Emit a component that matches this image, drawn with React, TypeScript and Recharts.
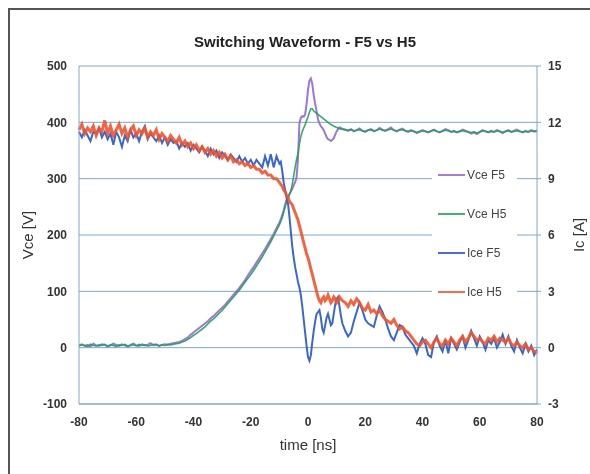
import React from 'react';
import { CartesianGrid, Line, LineChart, XAxis, YAxis } from 'recharts';

// time axis in ns (1 ns steps on the flat parts, 0.5 ns around the switching edge)
const timeNs = [
  -80, -79, -78, -77, -76, -75, -74, -73, -72, -71,
  -70, -69, -68, -67, -66, -65, -64, -63, -62, -61,
  -60, -59, -58, -57, -56, -55, -54, -53, -52, -51,
  -50, -49, -48, -47, -46, -45, -44, -43, -42, -41,
  -40, -39, -38, -37, -36, -35, -34, -33, -32, -31,
  -30, -29, -28, -27, -26, -25, -24, -23, -22, -21,
  -20, -19, -18, -17, -16, -15, -14, -13, -12, -11,
  -10,
  -9.5, -9, -8.5, -8, -7.5, -7, -6.5, -6, -5.5, -5,
  -4.5, -4, -3.5, -3, -2.5, -2, -1.5, -1, -0.5, 0,
  0.5, 1, 1.5, 2, 2.5, 3, 3.5, 4, 4.5, 5,
  5.5, 6, 6.5, 7, 7.5, 8, 8.5, 9, 9.5, 10,
  10.5, 11, 11.5, 12,
  13, 14, 15, 16, 17, 18, 19, 20, 21, 22,
  23, 24, 25, 26, 27, 28, 29, 30, 31, 32,
  33, 34, 35, 36, 37, 38, 39, 40, 41, 42,
  43, 44, 45, 46, 47, 48, 49, 50, 51, 52,
  53, 54, 55, 56, 57, 58, 59, 60, 61, 62,
  63, 64, 65, 66, 67, 68, 69, 70, 71, 72,
  73, 74, 75, 76, 77, 78, 79, 80,
];

// Vce F5 [V]
const vceF5 = [
  4, 6, 3, 5, 2, 7, 4, 3, 6, 5,
  2, 4, 7, 5, 3, 6, 4, 2, 5, 7,
  4, 3, 6, 4, 5, 8, 4, 6, 3, 5,
  6, 5, 7, 8, 9, 10, 12, 15, 18, 23,
  27, 31, 35, 39, 43, 47, 52, 56, 61, 66,
  71, 76, 82, 88, 94, 100, 106, 113, 120, 128,
  136, 143, 151, 159, 167, 175, 184, 193, 202, 212,
  222,
  228, 236, 244, 254, 262, 268, 273, 277, 282, 288,
  294, 302, 335, 398, 408, 411, 410, 414, 432, 458,
  474, 478, 468, 448, 433, 420, 405, 398, 393, 390,
  386, 380, 374, 370, 369, 367, 369, 372, 378, 384,
  388, 391, 390, 388,
  387, 385, 388, 384, 386, 389, 385, 383, 386, 388,
  384, 386, 390, 387, 385, 388, 391, 386, 384, 387,
  389, 385, 383, 386, 384, 381, 383, 386, 384, 382,
  385, 387, 384, 382, 385, 388, 386, 383, 385, 382,
  384, 387, 385, 383, 380, 382, 379, 383, 386, 384,
  382, 385, 383, 386, 384, 381, 384, 386, 383, 385,
  387, 384, 382, 385, 383, 386, 384, 385,
];

// Vce H5 [V]
const vceH5 = [
  3, 5, 4, 2, 6, 4, 3, 5, 4, 6,
  3, 5, 4, 2, 5, 4, 6, 3, 4, 5,
  3, 6, 4, 5, 3, 4, 6, 5, 3, 5,
  4, 6, 5, 6, 7, 8, 10, 12, 15, 18,
  22, 25, 29, 33, 37, 42, 47, 51, 56, 61,
  66, 72, 78, 84, 90, 96, 102, 109, 116, 123,
  130, 137, 145, 153, 161, 170, 179, 188, 198, 208,
  218,
  224, 231, 240, 250, 258, 265, 271, 278, 290, 305,
  320, 334, 345, 362, 375, 384, 390, 396, 403, 410,
  418, 424, 424, 420, 418, 416, 414, 412, 410, 408,
  406, 404, 402, 400, 398, 396, 395, 393, 392, 391,
  390, 389, 388, 388,
  387, 386, 387, 385, 386, 387, 385, 384, 386, 387,
  385, 386, 388, 386, 385, 387, 388, 386, 385, 386,
  387, 385, 384, 385, 384, 382, 384, 385, 384, 383,
  384, 386, 384, 383, 384, 386, 385, 383, 384, 383,
  384, 385, 384, 383, 382, 383, 381, 383, 385, 384,
  383, 384, 383, 385, 384, 382, 384, 385, 383, 384,
  385, 384, 383, 384, 383, 385, 384, 384,
];

// Ice F5 [A]
const iceF5 = [
  11.5, 11.2, 11.6, 11.3, 11.0, 11.5, 11.4, 11.7, 11.2, 11.5,
  11.1, 11.4, 10.8, 11.5, 11.2, 10.7, 11.3, 11.0, 11.6, 11.2,
  11.4, 11.0, 11.5, 11.8, 11.1, 11.4, 11.2, 11.0, 11.3, 10.9,
  11.2, 10.8, 11.1, 10.9, 11.0, 10.6, 10.9, 10.7, 10.9, 10.5,
  10.8, 10.6, 10.4, 10.7, 10.5, 10.2, 10.6, 10.3, 10.5, 10.1,
  10.4, 10.2, 10.0, 10.3, 10.1, 9.9, 10.2, 9.9, 10.1, 9.8,
  10.0, 9.7, 10.0, 9.8, 9.6, 10.2, 9.7, 10.3, 9.6, 10.2,
  9.8,
  9.9, 9.4, 8.8, 8.4, 8.0, 7.7, 7.0, 6.2, 5.4, 4.8,
  4.3, 3.9, 3.5, 3.2, 2.8, 2.2, 1.5, 0.8, 0.1, -0.5,
  -0.7, -0.4, 0.3, 0.9, 1.4, 1.8, 1.9, 2.0, 1.6, 1.0,
  0.8, 1.2, 1.6, 1.8, 1.5, 1.2, 1.3, 1.8, 2.3, 2.6,
  2.7, 2.2, 1.7, 1.3,
  0.9, 0.6, 0.8, 1.4, 1.9, 2.4, 2.0, 1.5, 1.3, 1.2,
  1.1, 1.7, 2.2, 1.9, 1.5, 1.0, 0.6, 0.4, 0.8, 1.2,
  1.1, 0.7, 0.5, 0.3, 0.1, -0.3, 0.2, 0.5, 0.2, -0.4,
  -0.5, 0.3, 0.6, 0.1, -0.2, 0.4, -0.3, 0.5, 0.2, -0.1,
  0.3, 0.6, 0.0, 0.4, 0.9, 0.5, 0.1, 0.6, 0.3, -0.1,
  0.4, 0.2, 0.5, 0.0, 0.3, 0.7, 0.2, 0.6, 0.1, -0.2,
  0.4, 0.0, -0.3, 0.2, -0.2, 0.1, -0.4, -0.1,
];

// Ice H5 [A]
const iceH5 = [
  11.6, 11.9, 11.4, 11.7, 11.5, 11.8, 11.3, 11.7, 11.5, 12.1,
  11.4, 11.8, 11.3, 11.6, 11.9, 11.4, 11.7, 11.2, 11.6, 11.8,
  11.3, 11.6, 11.4, 11.7, 11.2, 11.5, 11.3, 11.6, 11.1, 11.4,
  11.2, 11.0, 11.3, 11.1, 10.9, 11.2, 10.8, 11.0, 10.7, 10.9,
  10.6, 10.8, 10.5, 10.7, 10.4, 10.6, 10.3, 10.5, 10.2, 10.4,
  10.1, 10.3, 10.0, 10.2, 9.9, 10.0, 9.8, 9.9, 9.7, 9.8,
  9.6, 9.7, 9.5, 9.5, 9.3, 9.4, 9.2, 9.2, 9.0, 9.0,
  8.8,
  8.7, 8.6, 8.4, 8.3, 8.1, 8.0, 7.8, 7.7, 7.6, 7.4,
  7.2, 7.0, 6.8, 6.5, 6.2, 5.9, 5.6, 5.3, 5.0, 4.8,
  4.5, 4.2, 3.9, 3.6, 3.3, 3.0, 2.7, 2.5, 2.4, 2.6,
  2.7, 2.5, 2.6, 2.8, 2.6, 2.4, 2.5, 2.7, 2.6, 2.4,
  2.5, 2.7, 2.6, 2.5,
  2.4, 2.2, 2.5, 2.3, 2.6, 2.4, 2.1, 2.0, 2.3, 1.9,
  2.0, 1.8, 2.0, 1.7, 1.5, 1.4, 1.3, 1.5, 1.2, 1.0,
  1.1, 0.9, 0.8, 0.6, 0.4, 0.2, 0.1, 0.3, 0.4, 0.2,
  0.0, 0.3, 0.5, 0.2, 0.1, 0.4, 0.2, 0.5, 0.3, 0.1,
  0.4, 0.6, 0.3, 0.5, 0.8, 0.6, 0.4, 0.5, 0.3, 0.2,
  0.5, 0.4, 0.6, 0.3, 0.5, 0.4, 0.3, 0.5, 0.2, 0.1,
  0.3, 0.1, 0.0, 0.2, -0.1, 0.0, -0.2, -0.3,
];

const timeTicks = [-80, -60, -40, -20, 0, 20, 40, 60, 80];
const voltTicks = [-100, 0, 100, 200, 300, 400, 500];
const ampTicks = [-3, 0, 3, 6, 9, 12, 15];

const seriesDefs = [
  { key: 'vf', name: 'Vce F5', axis: 'v', color: '#9467cf', width: 2 },
  { key: 'vh', name: 'Vce H5', axis: 'v', color: '#23a05a', width: 1.6 },
  { key: 'if', name: 'Ice F5', axis: 'a', color: '#2456c6', width: 2 },
  { key: 'ih', name: 'Ice H5', axis: 'a', color: '#f0542e', width: 3 },
];

const rows = timeNs.map((t, i) => ({
  t,
  vf: vceF5[i],
  vh: vceH5[i],
  if: iceF5[i],
  ih: iceH5[i],
}));

const FONT = '"Liberation Sans", Arial, sans-serif';
const GRID = '#7fa8ca';
const tickStyle = { fontSize: 12, fontWeight: 'bold', fill: '#333', fontFamily: FONT };

// legend sits inside the plot, on a white patch that hides the gridlines
const InsideLegend = () => (
  <div style={{ position: 'absolute', left: 424, top: 150, width: 85, height: 150, background: '#fff' }}>
    {seriesDefs.map((s, i) => (
      <div
        key={s.key}
        style={{ position: 'absolute', left: 6, top: 17 + i * 39 - 8, height: 16, display: 'flex', alignItems: 'center' }}
      >
        <div style={{ width: 27, height: 2, background: s.color, opacity: 0.85 }} />
        <span style={{ marginLeft: 2, fontSize: 12, color: '#444', fontFamily: FONT }}>{s.name}</span>
      </div>
    ))}
  </div>
);

export default function App() {
  // fixed so the 582px-wide frame does not make the page scroll
  return (
    <div style={{ position: 'fixed', left: 8, top: 8, width: 582, height: 466, fontFamily: FONT, overflow: 'hidden' }}>
      <div style={{ position: 'absolute', left: 0, top: 0, width: 582, height: 2, background: '#555' }} />
      <div style={{ position: 'absolute', left: 0, top: 0, width: 2, height: 466, background: '#555' }} />
      <div
        style={{
          position: 'absolute',
          left: 97,
          width: 400,
          top: 25,
          textAlign: 'center',
          fontSize: 15,
          fontWeight: 'bold',
          color: '#222',
        }}
      >
        Switching Waveform - F5 vs H5
      </div>
      <LineChart width={582} height={466} data={rows} margin={{ top: 58, right: 0, left: 10, bottom: 20 }}>
        <CartesianGrid yAxisId="v" horizontal vertical={false} stroke={GRID} />
        <XAxis
          dataKey="t"
          type="number"
          domain={[-80, 80]}
          ticks={timeTicks}
          height={50}
          tickLine={false}
          tickSize={6}
          tickMargin={7}
          axisLine={{ stroke: GRID }}
          tick={tickStyle}
          label={{ value: 'time [ns]', position: 'insideBottom', offset: 4, style: { fontSize: 15, fill: '#333' } }}
        />
        <YAxis
          yAxisId="v"
          domain={[-100, 500]}
          ticks={voltTicks}
          width={61}
          tickLine={false}
          tickSize={6}
          tickMargin={6}
          axisLine={{ stroke: GRID }}
          tick={tickStyle}
          label={{
            value: 'Vce [V]',
            angle: -90,
            position: 'insideLeft',
            offset: 10,
            style: { fontSize: 15, fill: '#333', textAnchor: 'middle' },
          }}
        />
        <YAxis
          yAxisId="a"
          orientation="right"
          domain={[-3, 15]}
          ticks={ampTicks}
          width={53}
          tickLine={{ stroke: GRID }}
          tickSize={4}
          tickMargin={7}
          axisLine={{ stroke: GRID }}
          tick={tickStyle}
          label={{
            value: 'Ic [A]',
            angle: -90,
            position: 'insideRight',
            offset: 11,
            style: { fontSize: 15, fill: '#333', textAnchor: 'middle' },
          }}
        />
        {seriesDefs.map((s) => (
          <Line
            key={s.key}
            yAxisId={s.axis}
            dataKey={s.key}
            name={s.name}
            type="linear"
            stroke={s.color}
            strokeWidth={s.width}
            strokeOpacity={0.9}
            dot={false}
            isAnimationActive={false}
          />
        ))}
      </LineChart>
      <InsideLegend />
    </div>
  );
}
